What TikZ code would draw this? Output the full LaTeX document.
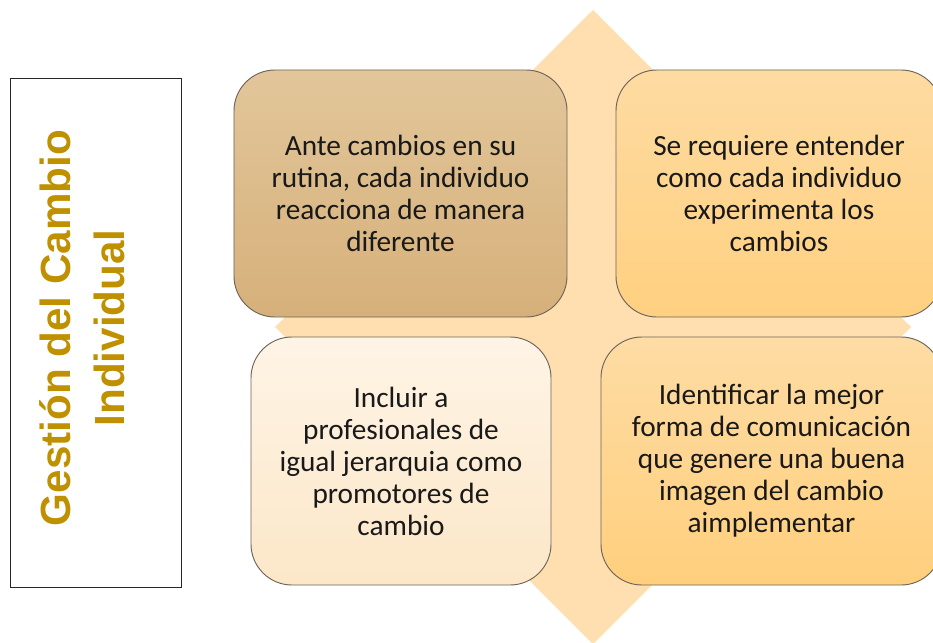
\documentclass[tikz,border=0pt]{standalone}
\usepackage{fontspec}
\setmainfont{Carlito}
\newfontfamily\titlefont{Liberation Sans}
\usetikzlibrary{calc}
\definecolor{diamondfill}{RGB}{255,222,176}
\definecolor{titlegold}{RGB}{191,144,0}
\definecolor{edgegray}{RGB}{110,100,90}
\tikzset{
	quad/.style={draw=edgegray, line width=0.8pt, rounded corners=35pt, align=center,
		inner sep=0pt, font=\fontsize{25}{27.3}\selectfont, text=black!90},
}

\begin{document}
\begin{tikzpicture}[x=0.03cm, y=-0.03cm]
			%%%%% START %%%%%
			
			\useasboundingbox (0, 0) rectangle (933, 642);
			\clip (0, 0) rectangle (933, 642);
			
			\fill[diamondfill] (593, 10) -- (911, 327) -- (593, 644) -- (275, 327) -- cycle;
			
			\node[draw=black!85, line width=0.8pt, minimum width=5.13cm, minimum height=15.27cm, inner sep=0pt] (frame) at (95.5, 332.5) {};
			\node[rotate=90, align=center, text=titlegold, font=\titlefont\bfseries\fontsize{36}{46}\selectfont] (title) at (82, 328) {Gestión del Cambio\\Individual};
			
			\node[quad, top color={rgb,255:red,226;green,198;blue,154}, bottom color={rgb,255:red,214;green,176;blue,122},
				minimum width=9.99cm, minimum height=7.41cm] (rutina) at (400.5, 193.5)
				{Ante cambios en su\\rutina, cada individuo\\reacciona de manera\\diferente};
			\node[quad, top color={rgb,255:red,254;green,219;blue,162}, bottom color={rgb,255:red,255;green,208;blue,128},
				minimum width=9.78cm, minimum height=7.41cm] (entender) at (779, 193.5)
				{Se requiere entender\\como cada individuo\\experimenta los\\cambios};
			\node[quad, top color={rgb,255:red,254;green,244;blue,230}, bottom color={rgb,255:red,252;green,231;blue,200},
				minimum width=9cm, minimum height=7.44cm] (incluir) at (401, 461)
				{Incluir a\\profesionales de\\igual jerarquia como\\promotores de\\cambio};
			\node[quad, top color={rgb,255:red,254;green,220;blue,164}, bottom color={rgb,255:red,255;green,207;blue,125},
				minimum width=10.23cm, minimum height=7.44cm] (comunicar) at (771.5, 461)
				{Identificar la mejor\\forma de comunicación\\que genere una buena\\imagen del cambio\\aimplementar};
			
			%%%%% END %%%%%
\end{tikzpicture}
\end{document}
